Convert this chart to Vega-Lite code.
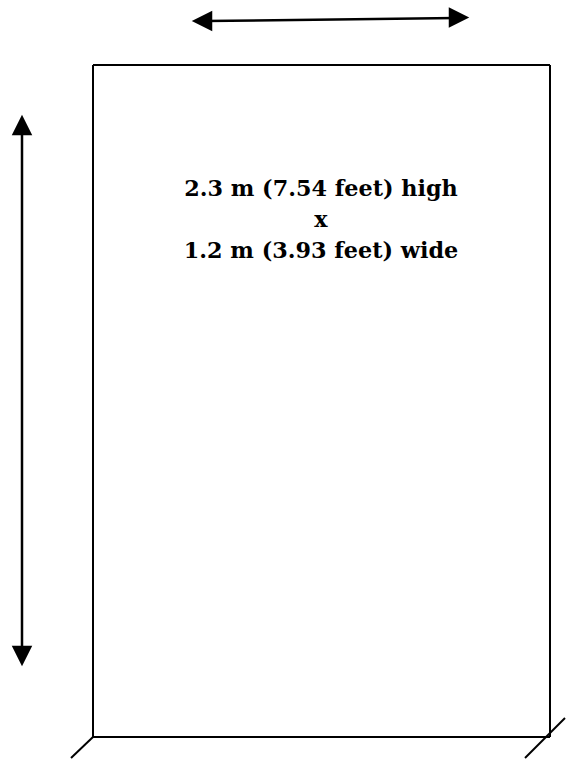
{
  "$schema": "https://vega.github.io/schema/vega-lite/v6.json",
  "width": 566,
  "height": 759,
  "padding": 0,
  "autosize": {"type": "fit", "contains": "padding"},
  "background": "white",
  "config": {"view": {"stroke": null}},
  "datasets": {
    "frame": [
      {"part": "top", "x": 93, "y": 65, "x2": 550, "y2": 65},
      {"part": "bottom", "x": 93, "y": 737, "x2": 550, "y2": 737},
      {"part": "left", "x": 93, "y": 65, "x2": 93, "y2": 737},
      {"part": "right", "x": 550, "y": 65, "x2": 550, "y2": 737},
      {"part": "floor-left", "x": 93, "y": 737, "x2": 71, "y2": 758},
      {"part": "floor-right", "x": 525, "y": 758, "x2": 565, "y2": 718}
    ],
    "shafts": [
      {"part": "width", "x": 205, "y": 21, "x2": 456, "y2": 18},
      {"part": "height", "x": 22, "y": 130, "x2": 22, "y2": 651}
    ],
    "heads": [
      {"head": "left", "x": 202, "y": 21},
      {"head": "right", "x": 459, "y": 17.5},
      {"head": "up", "x": 22, "y": 125},
      {"head": "down", "x": 22, "y": 656}
    ],
    "label": [
      {"line": 1, "text": "2.3 m (7.54 feet) high", "x": 321, "y": 196},
      {"line": 2, "text": "x", "x": 321, "y": 227},
      {"line": 3, "text": "1.2 m (3.93 feet) wide", "x": 321, "y": 258}
    ]
  },
  "layer": [
    {
      "data": {"name": "frame"},
      "mark": {"type": "rule", "color": "black", "strokeWidth": 2},
      "encoding": {
        "x": {"field": "x", "type": "quantitative", "scale": {"domain": [0, 566]}, "axis": null},
        "y": {"field": "y", "type": "quantitative", "scale": {"domain": [0, 759], "reverse": true}, "axis": null},
        "x2": {"field": "x2"},
        "y2": {"field": "y2"}
      }
    },
    {
      "data": {"name": "shafts"},
      "mark": {"type": "rule", "color": "black", "strokeWidth": 2.5},
      "encoding": {
        "x": {"field": "x", "type": "quantitative", "scale": {"domain": [0, 566]}, "axis": null},
        "y": {"field": "y", "type": "quantitative", "scale": {"domain": [0, 759], "reverse": true}, "axis": null},
        "x2": {"field": "x2"},
        "y2": {"field": "y2"}
      }
    },
    {
      "data": {"name": "heads"},
      "mark": {"type": "point", "filled": true, "color": "black", "opacity": 1, "size": 420, "strokeWidth": 0},
      "encoding": {
        "x": {"field": "x", "type": "quantitative", "scale": {"domain": [0, 566]}, "axis": null},
        "y": {"field": "y", "type": "quantitative", "scale": {"domain": [0, 759], "reverse": true}, "axis": null},
        "shape": {
          "field": "head",
          "type": "nominal",
          "scale": {
            "domain": ["left", "right", "up", "down"],
            "range": ["M-1,0L1,-1L1,1Z", "M1,0L-1,-1L-1,1Z", "M0,-1L-1,1L1,1Z", "M0,1L-1,-1L1,-1Z"]
          },
          "legend": null
        }
      }
    },
    {
      "data": {"name": "label"},
      "mark": {"type": "text", "font": "DejaVu Serif", "fontWeight": "bold", "fontSize": 22.3, "color": "black", "align": "center", "baseline": "alphabetic"},
      "encoding": {
        "x": {"field": "x", "type": "quantitative", "scale": {"domain": [0, 566]}, "axis": null},
        "y": {"field": "y", "type": "quantitative", "scale": {"domain": [0, 759], "reverse": true}, "axis": null},
        "text": {"field": "text"}
      }
    }
  ]
}
